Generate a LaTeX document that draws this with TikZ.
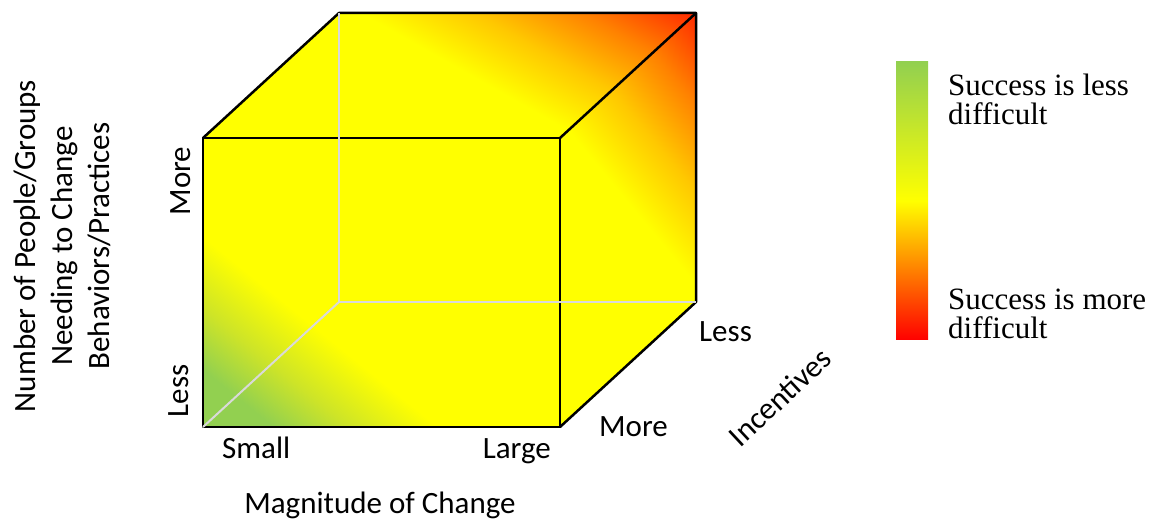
\documentclass[tikz,border=0pt]{standalone}
\usepackage{fontspec}
\setmainfont{Carlito}
\newfontfamily\legfont{Liberation Serif}
\usetikzlibrary{calc}
\definecolor{cgreen}{RGB}{146,208,80}
\definecolor{cyel}{RGB}{255,255,0}
\definecolor{cmid}{RGB}{205,228,40}
\definecolor{corA}{RGB}{255,200,0}
\definecolor{corB}{RGB}{255,130,0}
\definecolor{cred}{RGB}{255,40,0}
\definecolor{lred}{RGB}{255,0,0}
\definecolor{hidgray}{RGB}{217,217,217}
\pgfdeclarehorizontalshading{frontsh}{100bp}{color(0bp)=(cgreen); color(40bp)=(cgreen); color(56bp)=(cmid); color(75bp)=(cyel); color(100bp)=(cyel)}
\pgfdeclarehorizontalshading{hotsh}{100bp}{color(0bp)=(cyel); color(28bp)=(cyel); color(44bp)=(corA); color(59bp)=(corB); color(75bp)=(cred); color(100bp)=(cred)}
\pgfdeclareverticalshading{legsh}{100bp}{color(0bp)=(lred); color(25bp)=(lred); color(50bp)=(cyel); color(75bp)=(cgreen); color(100bp)=(cgreen)}
\begin{document}
\begin{tikzpicture}[x=1pt,y=-1pt,
  cubeedge/.style={line width=2.5pt, line join=round, line cap=round},
  hid/.style={draw=hidgray, line width=2pt},
  lbl/.style={font=\fontsize{31}{37}\selectfont, inner sep=0pt},
  leg/.style={font=\legfont\fontsize{31}{29}\selectfont, inner sep=0pt, align=left}]
\useasboundingbox (0,0) rectangle (1163,521);
% cube corners
\coordinate (FTL) at (203,138);
\coordinate (FTR) at (560,138);
\coordinate (FBR) at (560,427);
\coordinate (FBL) at (203,427);
\coordinate (BTL) at (339,13);
\coordinate (BTR) at (696,13);
\coordinate (BBR) at (696,302);
\coordinate (BBL) at (339,302);
% base fill
\fill[cyel] (FTL) -- (BTL) -- (BTR) -- (BBR) -- (FBR) -- (FBL) -- cycle;
% front face gradient
\begin{scope}
  \clip (FTL) -- (FTR) -- (FBR) -- (FBL) -- cycle;
  \begin{scope}[transform canvas={rotate around={51:(FBL)}}]
    \shade[shading=frontsh] ($(FBL)+(0,-700)$) rectangle ($(FBL)+(148,700)$);
  \end{scope}
\end{scope}
% top face gradient
\begin{scope}
  \clip (FTL) -- (BTL) -- (BTR) -- (FTR) -- cycle;
  \begin{scope}[transform canvas={rotate around={60.5:(BTL)}}]
    \shade[shading=hotsh] ($(BTL)+(0,-700)$) rectangle ($(BTL)+(176,700)$);
  \end{scope}
\end{scope}
% right face gradient
\begin{scope}
  \clip (FTR) -- (BTR) -- (BBR) -- (FBR) -- cycle;
  \begin{scope}[transform canvas={rotate around={39.6:(FTR)}}]
    \shade[shading=hotsh] ($(FTR)+(0,-700)$) rectangle ($(FTR)+(185,700)$);
  \end{scope}
\end{scope}
% visible edges
\draw[cubeedge] (FTL) -- (FTR) -- (FBR) -- (FBL) -- cycle;
\draw[cubeedge] (FTL) -- (BTL) -- (BTR) -- (BBR) -- (FBR);
\draw[cubeedge] (FTR) -- (BTR);
% hidden edges
\draw[hid] (BTL) -- (BBL) -- (BBR);
\draw[hid] (BBL) -- (FBL);
% axis labels
\node[lbl, rotate=90, align=center] (ylab) at (62,246) {Number of People/Groups\\Needing to Change\\Behaviors/Practices};
\node[lbl, rotate=90] (ymore) at (181,181) {More};
\node[lbl, rotate=90] (yless) at (179,391) {Less};
\node[lbl, anchor=base west] (xsmall) at (222,458) {Small};
\node[lbl, anchor=base east] (xlarge) at (551,458) {Large};
\node[lbl, anchor=base] (xlab) at (380,513) {Magnitude of Change};
\node[lbl, anchor=base west] (zmore) at (599,437) {More};
\node[lbl, anchor=base west] (zless) at (699,342) {Less};
\node[lbl, rotate=43] (zlab) at (780,397) {Incentives};
% legend
\node[shade, shading=legsh, minimum width=32pt, minimum height=278pt, inner sep=0pt] (legbar) at (912,201) {};
\node[leg, anchor=north west] (legtop) at (948,74) {Success is less\\difficult};
\node[leg, anchor=north west] (legbot) at (948,289) {Success is more\\difficult};
\end{tikzpicture}
\end{document}
